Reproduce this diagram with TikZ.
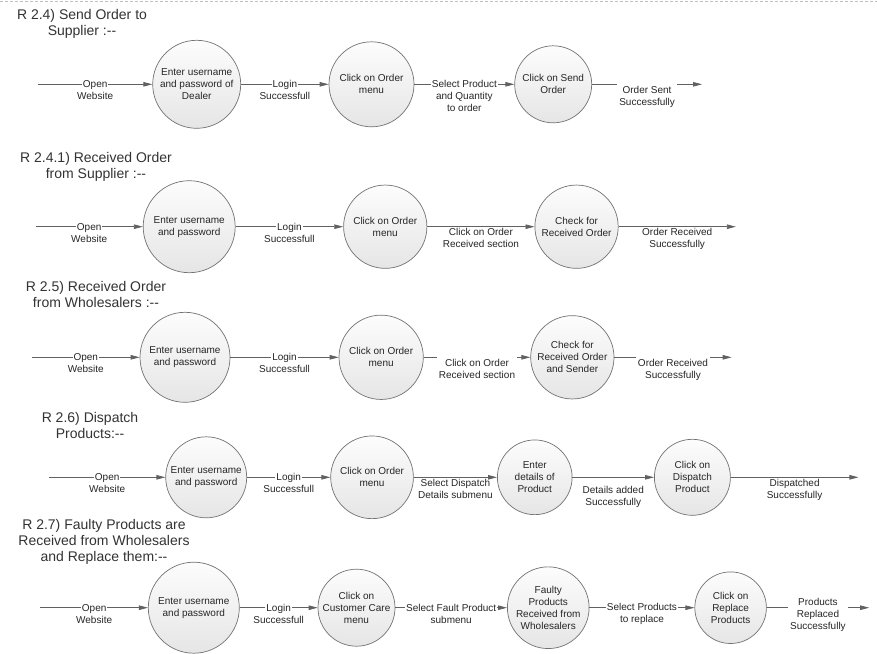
\documentclass[tikz,border=0pt]{standalone}
\usepackage{fontspec}
\setmainfont{Liberation Sans}
\usepackage{tikz}
\usetikzlibrary{ arrows.meta, positioning }
\setlength{\fboxsep}{1pt}
\newcommand{\online}[1]{\colorbox{white}{#1}} % white strip so the line stops at the text
\tikzset{
>={Triangle[length=9pt, width=4.5pt]}, % thin filled arrow heads
flow/.style={->, black!62, line width=0.8pt}, % every connector
task/.style={circle, draw=black!55, line width=0.7pt, top color=black!1, bottom color=black!10,
  inner sep=0pt, align=center, text=black!85, font=\fontsize{10}{12}\selectfont}, % process bubbles
lbl/.style={align=center, inner sep=2pt, text=black!85, font=\fontsize{10}{12}\selectfont}, % edge texts
under/.style={lbl, anchor=north, yshift=0.6pt, fill=white}, % edge text hanging below the line
heading/.style={align=center, text=black!80, font=\fontsize{14}{16}\selectfont}, % row titles
}

\begin{document}
\begin{tikzpicture}[x=1pt, y=-1pt]
  \path[use as bounding box, fill=white] (0,0) rectangle (877,653);
  \draw[black!25, dash pattern=on 3pt off 2pt] (0,1) -- (877,1);

  % R 2.4 ---------------------------------
  \node[heading] (t1) at (82,24) {R 2.4) Send Order to\\Supplier :-{}-};
  \node[task, minimum size=88pt] (a1) at (196.7,84.3) {Enter username\\and password of\\Dealer};
  \node[task, minimum size=85pt, right=87.6pt of a1] (a2) {Click on Order\\menu};
  \node[task, minimum size=77pt, right=100pt of a2] (a3) {Click on Send\\Order};
  \coordinate[left=114.4pt of a1] (a0);
  \coordinate[right=110pt of a3] (a4);

  \path[flow]
  (a0) edge node[lbl, yshift=-5.5pt]{\online{Open}\\Website}(a1)
  (a1) edge node[lbl, yshift=-5.5pt]{\online{Login}\\Successfull}(a2)
  (a2) edge node[lbl, yshift=-11.5pt]{\online{Select Product}\\and Quantity\\to order}(a3)
  (a3) edge node[under]{Order Sent\\Successfully}(a4) ;

  % R 2.4.1 -------------------------------
  \node[heading] (t2) at (96,166.4) {R 2.4.1) Received Order\\from Supplier :-{}-};
  \node[task, minimum size=92pt] (b1) at (189.2,226.7) {Enter username\\and password};
  \node[task, minimum size=83.3pt, right=107.7pt of b1] (b2) {Click on Order\\menu};
  \node[task, minimum size=83.3pt, right=107.3pt of b2] (b3) {Check for\\Received Order};
  \coordinate[left=107.3pt of b1] (b0);
  \coordinate[right=117.3pt of b3] (b4);

  \path[flow]
  (b0) edge node[lbl, yshift=-5.5pt]{\online{Open}\\Website}(b1)
  (b1) edge node[lbl, yshift=-5.5pt]{\online{Login}\\Successfull}(b2)
  (b2) edge node[under]{Click on Order\\Received section}(b3)
  (b3) edge node[under]{Order Received\\Successfully}(b4) ;

  % R 2.5 ---------------------------------
  \node[heading] (t3) at (96,294.6) {R 2.5) Received Order\\from Wholesalers :-{}-};
  \node[task, minimum size=90pt] (c1) at (185,357.3) {Enter username\\and password};
  \node[task, minimum size=84.3pt, right=108.3pt of c1] (c2) {Click on Order\\menu};
  \node[task, minimum size=83.3pt, right=106.7pt of c2] (c3) {Check for\\Received Order\\and Sender};
  \coordinate[left=107.7pt of c1] (c0);
  \coordinate[right=117.3pt of c3] (c4);

  \path[flow]
  (c0) edge node[lbl, yshift=-5.5pt]{\online{Open}\\Website}(c1)
  (c1) edge node[lbl, yshift=-5.5pt]{\online{Login}\\Successfull}(c2)
  (c2) edge node[under]{Click on Order\\Received section}(c3)
  (c3) edge node[under]{Order Received\\Successfully}(c4) ;

  % R 2.6 ---------------------------------
  \node[heading] (t4) at (90,425.6) {R 2.6) Dispatch\\Products:-{}-};
  \node[task, minimum size=81pt] (d1) at (206.2,477.3) {Enter username\\and password};
  \node[task, minimum size=82.7pt, right=83.3pt of d1] (d2) {Click on Order\\menu};
  \node[task, minimum size=74.7pt, right=83.3pt of d2] (d3) {Enter\\details of\\Product};
  \node[task, minimum size=76pt, right=81.6pt of d3] (d4) {Click on\\Dispatch\\Product};
  \coordinate[left=116.4pt of d1] (d0);
  \coordinate[right=127.7pt of d4] (d5);

  \path[flow]
  (d0) edge node[lbl, yshift=-5.5pt]{\online{Open}\\Website}(d1)
  (d1) edge node[lbl, yshift=-5.5pt]{\online{Login}\\Successfull}(d2)
  (d2) edge node[lbl, anchor=north]{Select Dispatch\\Details submenu}(d3)
  (d3) edge node[lbl, anchor=north, yshift=-6.4pt]{Details added\\Successfully}(d4)
  (d4) edge node[lbl, anchor=north]{Dispatched\\Successfully}(d5) ;

  % R 2.7 ---------------------------------
  \node[heading] (t5) at (104,541.7) {R 2.7) Faulty Products are\\Received from Wholesalers\\and Replace them:-{}-};
  \node[task, minimum size=91pt] (e1) at (193.8,607.7) {Enter username\\and password};
  \node[task, minimum size=77pt, right=78pt of e1] (e2) {Click on\\Customer Care\\menu};
  \node[task, minimum size=81.7pt, right=111.7pt of e2] (e3) {Faulty\\Products\\Received from\\Wholesalers};
  \node[task, minimum size=71.6pt, right=105pt of e3] (e4) {Click on\\Replace\\Products};
  \coordinate[left=107.6pt of e1] (e0);
  \coordinate[right=102.4pt of e4] (e5);

  \path[flow]
  (e0) edge node[lbl, yshift=-5.5pt]{\online{Open}\\Website}(e1)
  (e1) edge node[lbl, yshift=-5.5pt]{\online{Login}\\Successfull}(e2)
  (e2) edge node[lbl, yshift=-5.5pt]{\online{Select Fault Product}\\submenu}(e3)
  (e3) edge node[lbl, yshift=-5.5pt]{\online{Select Products}\\to replace}(e4)
  (e4) edge node[lbl, fill=white, yshift=-7pt]{Products\\Replaced\\Successfully}(e5) ;
\end{tikzpicture}
\end{document}
